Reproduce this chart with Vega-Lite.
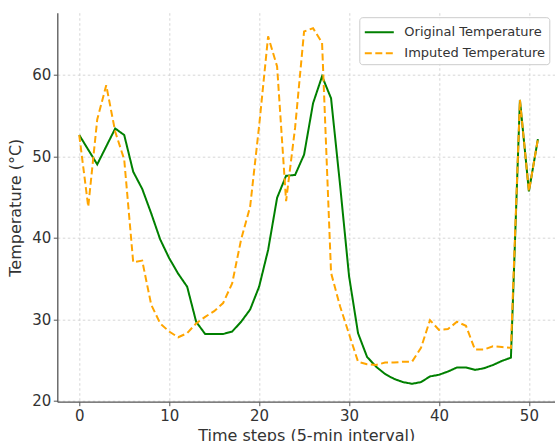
{
  "$schema": "https://vega.github.io/schema/vega-lite/v6.json",
  "width": 497.7,
  "height": 389,
  "autosize": "none",
  "padding": {"left": 57.3, "top": 12.7, "right": 0, "bottom": 39.3},
  "background": "white",
  "config": {
    "view": {"stroke": null},
    "font": "DejaVu Sans",
    "axis": {
      "domainColor": "#555555",
      "domainWidth": 1.3,
      "tickColor": "#555555",
      "tickSize": 4,
      "tickWidth": 1,
      "labelFont": "DejaVu Sans",
      "labelFontSize": 15,
      "labelColor": "#333333",
      "titleFont": "DejaVu Sans",
      "titleFontSize": 16,
      "titleFontWeight": "normal",
      "titleColor": "#333333",
      "gridColor": "#cccccc",
      "gridDash": [2.5, 2.5],
      "gridWidth": 0.8
    },
    "legend": {
      "title": null,
      "orient": "none",
      "legendX": 302,
      "legendY": 4.5,
      "symbolType": "M-1.45,0H1.45",
      "symbolSize": 400,
      "symbolStrokeWidth": 2,
      "symbolOffset": 5,
      "labelFont": "DejaVu Sans",
      "labelFontSize": 13,
      "labelColor": "#333333",
      "labelOffset": 14,
      "padding": 4,
      "rowPadding": 3,
      "strokeColor": "#cccccc",
      "cornerRadius": 3,
      "fillColor": "rgba(255,255,255,0.85)"
    }
  },
  "data": {
    "values": [
      {"t": 0, "series": "Original Temperature", "temp": 52.6},
      {"t": 1, "series": "Original Temperature", "temp": 50.8},
      {"t": 2, "series": "Original Temperature", "temp": 49.0},
      {"t": 3, "series": "Original Temperature", "temp": 51.2},
      {"t": 4, "series": "Original Temperature", "temp": 53.4},
      {"t": 5, "series": "Original Temperature", "temp": 52.6},
      {"t": 6, "series": "Original Temperature", "temp": 48.1},
      {"t": 7, "series": "Original Temperature", "temp": 46.0},
      {"t": 8, "series": "Original Temperature", "temp": 43.0},
      {"t": 9, "series": "Original Temperature", "temp": 39.8},
      {"t": 10, "series": "Original Temperature", "temp": 37.5},
      {"t": 11, "series": "Original Temperature", "temp": 35.6},
      {"t": 12, "series": "Original Temperature", "temp": 34.0},
      {"t": 13, "series": "Original Temperature", "temp": 29.7},
      {"t": 14, "series": "Original Temperature", "temp": 28.2},
      {"t": 15, "series": "Original Temperature", "temp": 28.2},
      {"t": 16, "series": "Original Temperature", "temp": 28.2},
      {"t": 17, "series": "Original Temperature", "temp": 28.5},
      {"t": 18, "series": "Original Temperature", "temp": 29.7},
      {"t": 19, "series": "Original Temperature", "temp": 31.2},
      {"t": 20, "series": "Original Temperature", "temp": 34.0},
      {"t": 21, "series": "Original Temperature", "temp": 38.5},
      {"t": 22, "series": "Original Temperature", "temp": 44.9},
      {"t": 23, "series": "Original Temperature", "temp": 47.6},
      {"t": 24, "series": "Original Temperature", "temp": 47.7},
      {"t": 25, "series": "Original Temperature", "temp": 50.2},
      {"t": 26, "series": "Original Temperature", "temp": 56.5},
      {"t": 27, "series": "Original Temperature", "temp": 59.8},
      {"t": 28, "series": "Original Temperature", "temp": 57.1},
      {"t": 29, "series": "Original Temperature", "temp": 46.5},
      {"t": 30, "series": "Original Temperature", "temp": 35.3},
      {"t": 31, "series": "Original Temperature", "temp": 28.3},
      {"t": 32, "series": "Original Temperature", "temp": 25.4},
      {"t": 33, "series": "Original Temperature", "temp": 24.2},
      {"t": 34, "series": "Original Temperature", "temp": 23.3},
      {"t": 35, "series": "Original Temperature", "temp": 22.7},
      {"t": 36, "series": "Original Temperature", "temp": 22.3},
      {"t": 37, "series": "Original Temperature", "temp": 22.1},
      {"t": 38, "series": "Original Temperature", "temp": 22.3},
      {"t": 39, "series": "Original Temperature", "temp": 23.0},
      {"t": 40, "series": "Original Temperature", "temp": 23.2},
      {"t": 41, "series": "Original Temperature", "temp": 23.6},
      {"t": 42, "series": "Original Temperature", "temp": 24.1},
      {"t": 43, "series": "Original Temperature", "temp": 24.1},
      {"t": 44, "series": "Original Temperature", "temp": 23.8},
      {"t": 45, "series": "Original Temperature", "temp": 24.0},
      {"t": 46, "series": "Original Temperature", "temp": 24.4},
      {"t": 47, "series": "Original Temperature", "temp": 24.9},
      {"t": 48, "series": "Original Temperature", "temp": 25.3},
      {"t": 49, "series": "Original Temperature", "temp": 56.9},
      {"t": 50, "series": "Original Temperature", "temp": 45.7},
      {"t": 51, "series": "Original Temperature", "temp": 52.1},
      {"t": 0, "series": "Imputed Temperature", "temp": 52.6},
      {"t": 1, "series": "Imputed Temperature", "temp": 43.8},
      {"t": 2, "series": "Imputed Temperature", "temp": 54.5},
      {"t": 3, "series": "Imputed Temperature", "temp": 58.7},
      {"t": 4, "series": "Imputed Temperature", "temp": 53.0},
      {"t": 5, "series": "Imputed Temperature", "temp": 49.6},
      {"t": 6, "series": "Imputed Temperature", "temp": 37.0},
      {"t": 7, "series": "Imputed Temperature", "temp": 37.2},
      {"t": 8, "series": "Imputed Temperature", "temp": 31.8},
      {"t": 9, "series": "Imputed Temperature", "temp": 29.5},
      {"t": 10, "series": "Imputed Temperature", "temp": 28.5},
      {"t": 11, "series": "Imputed Temperature", "temp": 27.8},
      {"t": 12, "series": "Imputed Temperature", "temp": 28.3},
      {"t": 13, "series": "Imputed Temperature", "temp": 29.5},
      {"t": 14, "series": "Imputed Temperature", "temp": 30.3},
      {"t": 15, "series": "Imputed Temperature", "temp": 31.0},
      {"t": 16, "series": "Imputed Temperature", "temp": 32.0},
      {"t": 17, "series": "Imputed Temperature", "temp": 34.4},
      {"t": 18, "series": "Imputed Temperature", "temp": 39.8},
      {"t": 19, "series": "Imputed Temperature", "temp": 43.8},
      {"t": 20, "series": "Imputed Temperature", "temp": 53.7},
      {"t": 21, "series": "Imputed Temperature", "temp": 64.7},
      {"t": 22, "series": "Imputed Temperature", "temp": 61.0},
      {"t": 23, "series": "Imputed Temperature", "temp": 44.5},
      {"t": 24, "series": "Imputed Temperature", "temp": 53.5},
      {"t": 25, "series": "Imputed Temperature", "temp": 65.3},
      {"t": 26, "series": "Imputed Temperature", "temp": 65.7},
      {"t": 27, "series": "Imputed Temperature", "temp": 63.9},
      {"t": 28, "series": "Imputed Temperature", "temp": 35.7},
      {"t": 29, "series": "Imputed Temperature", "temp": 31.6},
      {"t": 30, "series": "Imputed Temperature", "temp": 28.2},
      {"t": 31, "series": "Imputed Temperature", "temp": 24.8},
      {"t": 32, "series": "Imputed Temperature", "temp": 24.5},
      {"t": 33, "series": "Imputed Temperature", "temp": 24.4},
      {"t": 34, "series": "Imputed Temperature", "temp": 24.7},
      {"t": 35, "series": "Imputed Temperature", "temp": 24.7},
      {"t": 36, "series": "Imputed Temperature", "temp": 24.8},
      {"t": 37, "series": "Imputed Temperature", "temp": 24.8},
      {"t": 38, "series": "Imputed Temperature", "temp": 26.5},
      {"t": 39, "series": "Imputed Temperature", "temp": 29.9},
      {"t": 40, "series": "Imputed Temperature", "temp": 28.7},
      {"t": 41, "series": "Imputed Temperature", "temp": 28.8},
      {"t": 42, "series": "Imputed Temperature", "temp": 29.7},
      {"t": 43, "series": "Imputed Temperature", "temp": 29.2},
      {"t": 44, "series": "Imputed Temperature", "temp": 26.3},
      {"t": 45, "series": "Imputed Temperature", "temp": 26.3},
      {"t": 46, "series": "Imputed Temperature", "temp": 26.7},
      {"t": 47, "series": "Imputed Temperature", "temp": 26.6},
      {"t": 48, "series": "Imputed Temperature", "temp": 26.5},
      {"t": 49, "series": "Imputed Temperature", "temp": 56.9},
      {"t": 50, "series": "Imputed Temperature", "temp": 45.7},
      {"t": 51, "series": "Imputed Temperature", "temp": 52.1}
    ]
  },
  "mark": {"type": "line", "strokeWidth": 2, "clip": true},
  "encoding": {
    "x": {
      "field": "t",
      "type": "quantitative",
      "scale": {"domain": [-2.44, 52.9], "nice": false, "zero": false},
      "axis": {"values": [0, 10, 20, 30, 40, 50], "title": "Time steps (5-min interval)", "labelPadding": 2.5, "titlePadding": 4}
    },
    "y": {
      "field": "temp",
      "type": "quantitative",
      "scale": {"domain": [19.9, 67.6], "nice": false, "zero": false},
      "axis": {"values": [20, 30, 40, 50, 60], "title": "Temperature (°C)", "labelPadding": 2.5, "titlePadding": 8}
    },
    "color": {
      "field": "series",
      "type": "nominal",
      "sort": ["Original Temperature", "Imputed Temperature"],
      "scale": {"domain": ["Original Temperature", "Imputed Temperature"], "range": ["#008000", "#FFA500"]}
    },
    "strokeDash": {
      "field": "series",
      "type": "nominal",
      "sort": ["Original Temperature", "Imputed Temperature"],
      "scale": {"domain": ["Original Temperature", "Imputed Temperature"], "range": [[1, 0], [7, 3.5]]}
    }
  }
}
